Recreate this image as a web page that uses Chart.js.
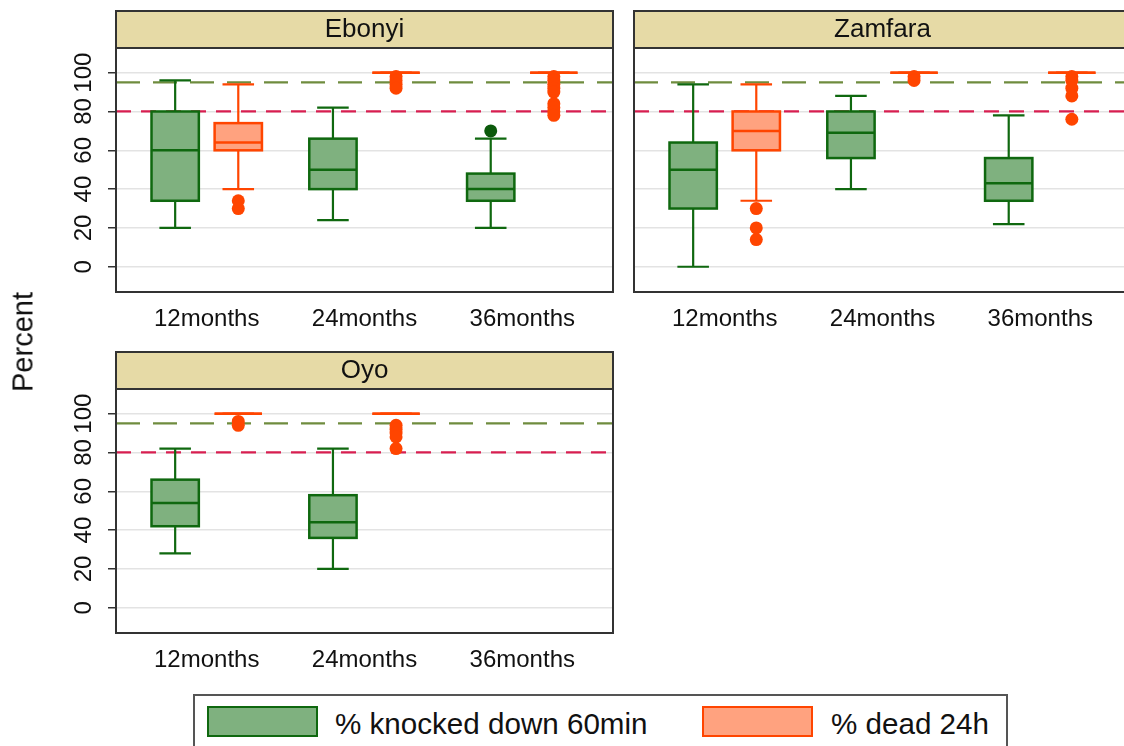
<!DOCTYPE html>
<html>
<head>
<meta charset="utf-8">
<script src="https://cdn.jsdelivr.net/npm/chart.js@4.4.1/dist/chart.umd.min.js"></script>
<style>
  html, body { margin: 0; padding: 0; background: #fff; }
  body { width: 1124px; height: 746px; position: relative; overflow: hidden;
         font-family: 'Liberation Sans', Arial, Helvetica, sans-serif; color: #111; }
  canvas { position: absolute; }
  #ytitle { position: absolute; left: 23px; top: 342px; font-size: 29px; white-space: nowrap;
            transform: translate(-50%, -50%) rotate(-90deg); }
  #legend { position: absolute; left: 193px; top: 694px; width: 815px; height: 70px;
            border: 2px solid #555; box-sizing: border-box; }
  .swatch { position: absolute; top: 706px; width: 111px; height: 31px; box-sizing: border-box; border: 2px solid; }
  .ltext { position: absolute; top: 707px; font-size: 29.6px; white-space: nowrap; }
</style>
</head>
<body>
<canvas id="ebonyi" width="625" height="340" style="left:0;top:0"></canvas>
<canvas id="zamfara" width="518" height="340" style="left:625px;top:0"></canvas>
<canvas id="oyo" width="625" height="340" style="left:0;top:341px"></canvas>
<div id="ytitle">Percent</div>
<div id="legend"></div>
<script>
const categories = ['12months', '24months', '36months'];
const seriesNames = ['% knocked down 60min', '% dead 24h'];
const yTicks = [0, 20, 40, 60, 80, 100];
const targetLines = [95, 80];

// box stats per category: [lower whisker, q1, median, q3, upper whisker]
const ebonyiKnock = [[20, 34, 60, 80, 96], [24, 40, 50, 66, 82], [20, 34, 40, 48, 66]];
const ebonyiDead = [[40, 60, 64, 74, 94], [100, 100, 100, 100, 100], [100, 100, 100, 100, 100]];
const ebonyiKnockOut = [[], [], [70]];
const ebonyiDeadOut = [[34, 30], [98, 96, 94, 92], [98, 96, 94, 92, 90, 84, 82, 80, 78]];

const zamfaraKnock = [[0, 30, 50, 64, 94], [40, 56, 69, 80, 88], [22, 34, 43, 56, 78]];
const zamfaraDead = [[34, 60, 70, 80, 94], [100, 100, 100, 100, 100], [100, 100, 100, 100, 100]];
const zamfaraKnockOut = [[], [], []];
const zamfaraDeadOut = [[30, 20, 14], [98, 96], [98, 96, 92, 88, 76]];

const oyoKnock = [[28, 42, 54, 66, 82], [20, 36, 44, 58, 82], null];
const oyoDead = [[100, 100, 100, 100, 100], [100, 100, 100, 100, 100], null];
const oyoKnockOut = [[], [], []];
const oyoDeadOut = [[96, 94], [94, 92, 90, 88, 82], []];

const green = '#0f680f', greenFill = '#7fb17f', greenDot = '#0b5a0b';
const orange = '#ff4500', orangeFill = '#ffa27f';
const lineColors = ['#6f8c3e', '#d81e50'];
const lineDashes = [[24, 13], [15, 10]];
const stripColor = '#e6daa6';
const frameColor = '#333';
const font = "'Liberation Sans', Arial, Helvetica, sans-serif";
const STRIP_H = 37;

// legend (shared, below the panels)
[[207, 335, greenFill, green], [702, 831, orangeFill, orange]].forEach(([sx, tx, fill, line], i) => {
  const sw = document.createElement('div');
  sw.className = 'swatch';
  sw.style.left = sx + 'px'; sw.style.background = fill; sw.style.borderColor = line;
  document.body.appendChild(sw);
  const t = document.createElement('div');
  t.className = 'ltext';
  t.style.left = tx + 'px';
  t.textContent = seriesNames[i];
  document.body.appendChild(t);
});

function boxPlugin(series) {
  return {
    id: 'boxes',
    beforeDatasetsDraw(chart) {
      const { ctx, chartArea: a, scales: { x, y } } = chart;
      ctx.save();
      targetLines.forEach((v, i) => {
        const py = y.getPixelForValue(v);
        ctx.strokeStyle = lineColors[i];
        ctx.lineWidth = 2.2;
        ctx.setLineDash(lineDashes[i]);
        ctx.beginPath(); ctx.moveTo(a.left, py); ctx.lineTo(a.right, py); ctx.stroke();
      });
      ctx.setLineDash([]);
      series.forEach(s => {
        s.stats.forEach((st, i) => {
          if (!st) return;
          const [lo, q1, med, q3, hi] = st.map(v => y.getPixelForValue(v));
          const c = i + s.offset;
          const l = x.getPixelForValue(c - 0.15), r = x.getPixelForValue(c + 0.15);
          const cl = x.getPixelForValue(c - 0.1), cr = x.getPixelForValue(c + 0.1);
          const mx = x.getPixelForValue(c);
          ctx.strokeStyle = s.color;
          ctx.lineWidth = 2.2;
          ctx.beginPath();
          ctx.moveTo(mx, q3); ctx.lineTo(mx, hi);
          ctx.moveTo(cl, hi); ctx.lineTo(cr, hi);
          ctx.moveTo(mx, q1); ctx.lineTo(mx, lo);
          ctx.moveTo(cl, lo); ctx.lineTo(cr, lo);
          ctx.stroke();
          ctx.fillStyle = s.fill;
          ctx.fillRect(l, q3, r - l, q1 - q3);
          ctx.lineWidth = 2.5;
          ctx.strokeRect(l, q3, r - l, q1 - q3);
          ctx.beginPath(); ctx.moveTo(l, med); ctx.lineTo(r, med); ctx.stroke();
        });
      });
      ctx.restore();
    }
  };
}

function framePlugin(name) {
  return {
    id: 'frame',
    beforeDraw(chart) {
      const { ctx, chartArea: a } = chart;
      ctx.save();
      ctx.fillStyle = stripColor;
      ctx.fillRect(a.left, a.top - STRIP_H, a.right - a.left, STRIP_H);
      ctx.fillStyle = '#111';
      ctx.font = '26px ' + font;
      ctx.textAlign = 'center';
      ctx.textBaseline = 'alphabetic';
      ctx.fillText(name, (a.left + a.right) / 2, a.top - 11);
      ctx.restore();
    },
    afterDraw(chart) {
      const { ctx, chartArea: a } = chart;
      ctx.save();
      ctx.strokeStyle = frameColor;
      ctx.lineWidth = 2;
      ctx.strokeRect(a.left, a.top - STRIP_H, a.right - a.left, a.bottom - a.top + STRIP_H);
      ctx.beginPath(); ctx.moveTo(a.left, a.top); ctx.lineTo(a.right, a.top); ctx.stroke();
      ctx.restore();
    }
  };
}

function outliers(lists, offset) {
  const pts = [];
  lists.forEach((vals, i) => vals.forEach(v => pts.push({ x: i + offset, y: v })));
  return pts;
}

function makePanel(id, name, knock, dead, knockOut, deadOut, axisWidth, showY) {
  new Chart(document.getElementById(id), {
    type: 'scatter',
    data: {
      datasets: [
        { label: seriesNames[0], data: outliers(knockOut, -0.2), backgroundColor: greenDot,
          borderWidth: 0, pointRadius: 6.5 },
        { label: seriesNames[1], data: outliers(deadOut, 0.2), backgroundColor: orange,
          borderWidth: 0, pointRadius: 6.5 }
      ]
    },
    options: {
      responsive: false,
      animation: false,
      events: [],
      layout: { padding: { top: 48, right: 12, left: 0, bottom: 0 } },
      plugins: { legend: { display: false }, tooltip: { enabled: false } },
      scales: {
        x: {
          type: 'linear', min: -0.575, max: 2.575,
          afterBuildTicks: s => { s.ticks = categories.map((c, i) => ({ value: i })); },
          afterFit: s => { s.height = 48; },
          grid: { display: false, drawTicks: false },
          border: { display: false },
          ticks: { callback: v => categories[v], autoSkip: false, maxRotation: 0, padding: 12.5,
                   color: '#111', font: { family: font, size: 24 } }
        },
        y: {
          type: 'linear', min: -13, max: 112.7,
          afterBuildTicks: s => { s.ticks = yTicks.map(v => ({ value: v })); },
          afterFit: s => { s.width = axisWidth; },
          grid: { color: '#e3e3e3', lineWidth: 1.5, drawTicks: showY, tickLength: 8,
                  tickColor: frameColor, tickWidth: 1.5 },
          border: { display: false },
          ticks: { display: showY, minRotation: 90, maxRotation: 90, crossAlign: 'center', padding: 4,
                   color: '#111', font: { family: font, size: 24 } }
        }
      }
    },
    plugins: [framePlugin(name), boxPlugin([
      { stats: knock, offset: -0.2, color: green, fill: greenFill },
      { stats: dead, offset: 0.2, color: orange, fill: orangeFill }
    ])]
  });
}

makePanel('ebonyi', 'Ebonyi', ebonyiKnock, ebonyiDead, ebonyiKnockOut, ebonyiDeadOut, 116, true);
makePanel('zamfara', 'Zamfara', zamfaraKnock, zamfaraDead, zamfaraKnockOut, zamfaraDeadOut, 9, false);
makePanel('oyo', 'Oyo', oyoKnock, oyoDead, oyoKnockOut, oyoDeadOut, 116, true);
</script>
</body>
</html>
